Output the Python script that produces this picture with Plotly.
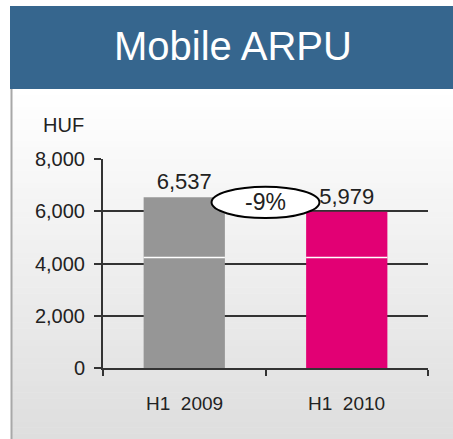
import plotly.graph_objects as go

# Chart data
categories = ["H1  2009", "H1  2010"]
arpu_values = [6537, 5979]
value_labels = ["6,537", "5,979"]
bar_colors = ["#969696", "#E20074"]
y_ticks = [0, 2000, 4000, 6000, 8000]
y_tick_labels = ["0", "2,000", "4,000", "6,000", "8,000"]
unit_label = "HUF"
title_text = "Mobile ARPU"

change_pct = round((arpu_values[1] - arpu_values[0]) / arpu_values[0] * 100)
change_label = f"{change_pct}%"

W, H = 453, 439
PL, PR, PT, PB = 103, 428, 159, 368  # plot area in pixels


def px_x(x):
    return (x - PL) / (PR - PL)


def px_y(y):
    return (PB - y) / (PB - PT)


FONT = "Liberation Sans, Arial, sans-serif"

fig = go.Figure()
fig.add_trace(go.Bar(
    x=[0, 1], y=arpu_values, width=0.5,
    marker=dict(color=bar_colors, line=dict(width=0)),
    text=value_labels, textposition="outside",
    textfont=dict(family=FONT, size=22, color="#222222"),
    cliponaxis=False, hoverinfo="skip",
))

shapes = []
# Vertical background gradient below the header
n_steps = 60
top, bottom = 89, H
for i in range(n_steps):
    t = i / (n_steps - 1)
    c = int(round(255 - t * (255 - 222)))
    y0 = top + (bottom - top) * i / n_steps
    y1 = top + (bottom - top) * (i + 1) / n_steps + 0.5
    shapes.append(dict(type="rect", xref="paper", yref="paper", layer="below",
                       x0=px_x(12), x1=px_x(W + 2), y0=px_y(y1), y1=px_y(y0),
                       fillcolor=f"rgb({c},{c},{c})", line=dict(width=0)))
# Header band
shapes.append(dict(type="rect", xref="paper", yref="paper", layer="below",
                   x0=px_x(10), x1=px_x(W + 2), y0=px_y(89), y1=px_y(6),
                   fillcolor="#36668E", line=dict(width=0)))
# Left border line
shapes.append(dict(type="line", xref="paper", yref="paper", layer="below",
                   x0=px_x(11.5), x1=px_x(11.5), y0=px_y(89), y1=px_y(H + 2),
                   line=dict(color="#a8a8a8", width=2)))
# Thin white seam across each bar
for i in range(len(arpu_values)):
    shapes.append(dict(type="line", xref="x", yref="y", layer="above",
                       x0=i - 0.25, x1=i + 0.25, y0=4230, y1=4230,
                       line=dict(color="white", width=1.5)))
# Ellipse for the change label
shapes.append(dict(type="circle", xref="x", yref="y", layer="above",
                   x0=0.5 - 0.332, x1=0.5 + 0.332, y0=6340 - 600, y1=6340 + 600,
                   fillcolor="white", line=dict(color="black", width=2)))

annotations = [
    dict(text=title_text, xref="paper", yref="paper", x=px_x(233), y=px_y(46),
         showarrow=False, xanchor="center", yanchor="middle",
         font=dict(family=FONT, size=40, color="white")),
    dict(text=unit_label, xref="paper", yref="paper", x=px_x(63), y=px_y(125),
         showarrow=False, xanchor="center", yanchor="middle",
         font=dict(family=FONT, size=20, color="#222222")),
    dict(text=change_label, xref="x", yref="y", x=0.5, y=6340,
         showarrow=False, xanchor="center", yanchor="middle",
         font=dict(family=FONT, size=23, color="#222222")),
]
for i, cat in enumerate(categories):
    annotations.append(dict(text=cat, xref="x", yref="paper", x=i, y=px_y(403),
                            showarrow=False, xanchor="center", yanchor="middle",
                            font=dict(family=FONT, size=19, color="#222222")))

fig.update_layout(
    width=W, height=H,
    margin=dict(l=PL, r=W - PR, t=PT, b=H - PB, pad=0),
    paper_bgcolor="white", plot_bgcolor="rgba(0,0,0,0)",
    showlegend=False,
    shapes=shapes, annotations=annotations,
    font=dict(family=FONT, color="#222222"),
    xaxis=dict(range=[-0.5, 1.5], tickvals=[-0.5, 0.5, 1.5], ticktext=["", "", ""],
               ticks="outside", ticklen=6, tickwidth=2, tickcolor="#333333",
               showline=True, linecolor="#333333", linewidth=2,
               showgrid=False, zeroline=False, fixedrange=True),
    yaxis=dict(range=[0, 8000], tickvals=y_ticks, ticktext=y_tick_labels,
               ticks="outside", ticklen=7, tickwidth=2, tickcolor="#333333",
               showline=True, linecolor="#333333", linewidth=2,
               showgrid=True, gridcolor="#333333", gridwidth=2,
               zeroline=False, tickfont=dict(family=FONT, size=20, color="#222222"),
               ticklabelstandoff=5, fixedrange=True),
)

fig.write_html("out.html")
